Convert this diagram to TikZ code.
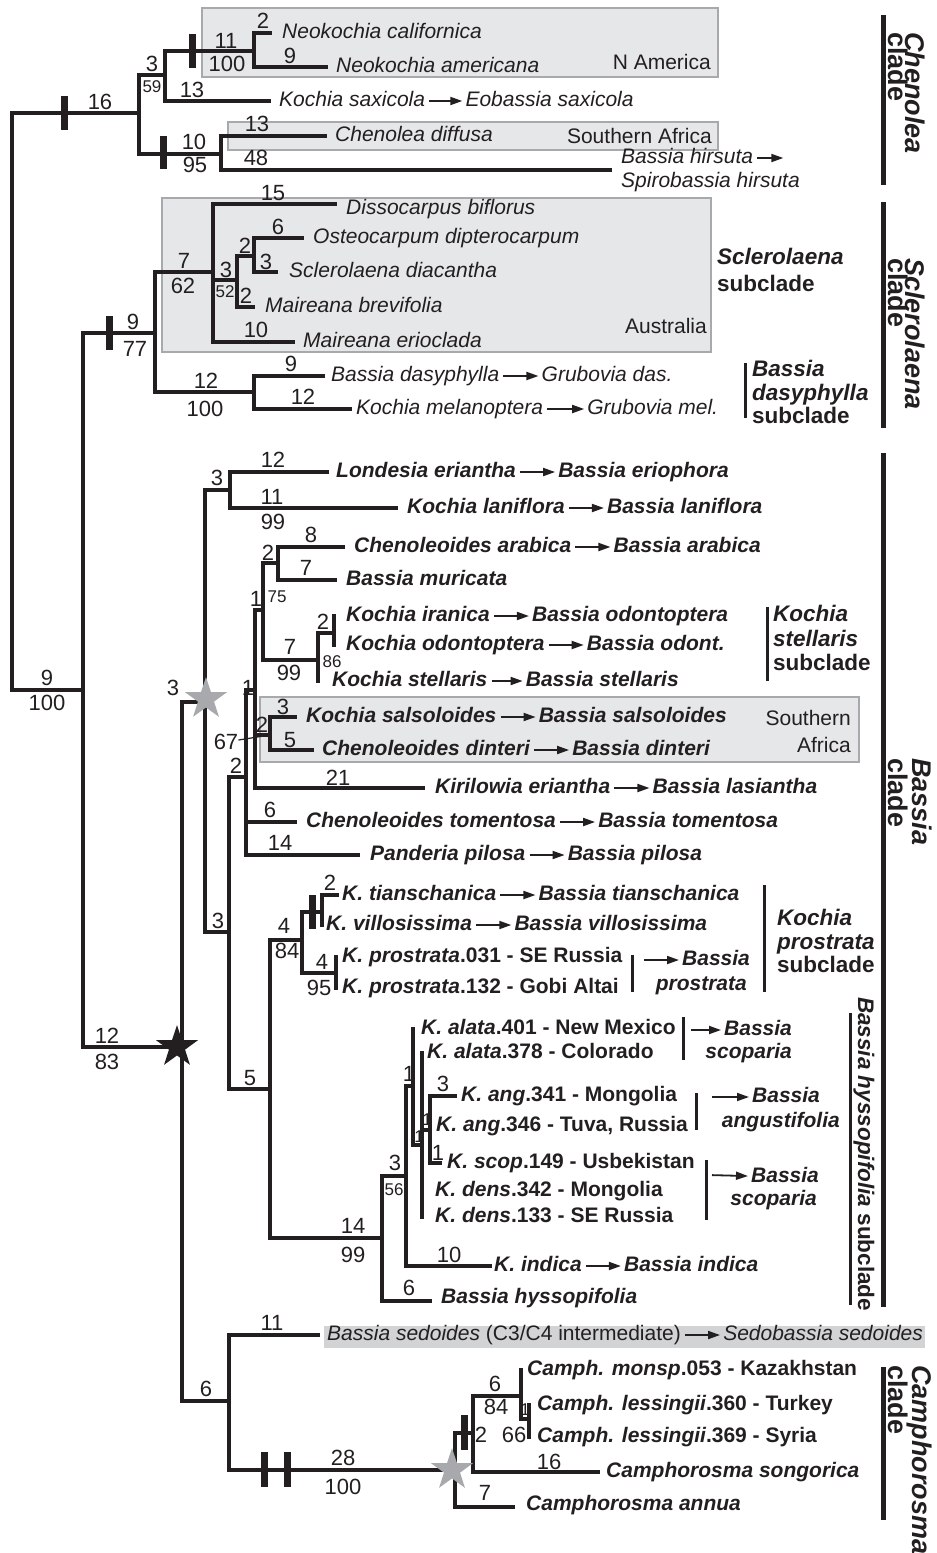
\documentclass[tikz,border=0pt]{standalone}
\usepackage{fontspec}
\setmainfont{Liberation Sans}
\usetikzlibrary{arrows.meta,positioning,shapes.geometric}

\definecolor{ink}{HTML}{231F20}
\definecolor{boxfill}{HTML}{E6E7E8}
\definecolor{boxline}{HTML}{A7A9AC}
\definecolor{sedfill}{HTML}{D1D3D4}
\definecolor{stargray}{HTML}{A7A9AC}

\newcommand\txsize{\fontsize{21}{24}\selectfont}
\newcommand\numsize{\fontsize{22}{24}\selectfont}
\newcommand\smsize{\fontsize{17}{18}\selectfont}
\newcommand\subsize{\fontsize{22.5}{24}\selectfont}
\newcommand\cladesize{\fontsize{27}{30}\selectfont}

\tikzset{
  br/.style={draw=ink, line width=3.3pt, line cap=rect},
  tick/.style={draw=ink, line width=7pt},
  cbar/.style={draw=ink, line width=5pt},
  sbar/.style={draw=ink, line width=3pt},
  tx/.style={font=\txsize\itshape, text=ink, inner sep=0pt, text height=15pt, text depth=4.5pt},
  btx/.style={tx, font=\txsize\bfseries\itshape},
  spx/.style={tx, font=\txsize\bfseries},
  glab/.style={font=\txsize, text=ink, inner sep=0pt},
  num/.style={font=\numsize, text=ink, inner sep=0pt},
  snum/.style={font=\smsize, text=ink, inner sep=0pt},
  ar/.style={draw=ink, line width=1.8pt, -{Triangle[length=12pt,width=8pt]}, shorten <=4pt, shorten >=3pt},
  geo/.style={draw=boxline, fill=boxfill, line width=2pt},
  sub/.style={font=\subsize\bfseries, text=ink, inner sep=0pt, anchor=base west},
  clade/.style={font=\cladesize\bfseries, text=ink, inner sep=0pt, rotate=-90, anchor=base west},
  star5/.style={star, star points=5, star point ratio=2.6, inner sep=0pt, minimum size=44pt}
}

\begin{document}
\begin{tikzpicture}[x=1pt, y=-1pt]
\useasboundingbox (0,0) rectangle (937,1553);

% geographic boxes
\draw[geo] (202,8) rectangle (718,77);
\draw[geo] (228,122) rectangle (718,150);
\draw[geo] (162,198) rectangle (711,352);
\draw[geo] (260,697) rectangle (859,762);
\fill[sedfill] (324,1326) rectangle (925,1348);

% internal nodes
\coordinate (root) at (12,400);
\coordinate (che) at (139,113);
\coordinate (neog) at (165,75);
\coordinate (neo) at (254,51);
\coordinate (chd) at (221,154);
\coordinate (rest) at (83,690);
\coordinate (scl) at (155,333);
\coordinate (scla) at (213,272);
\coordinate (sclb) at (237,280);
\coordinate (sclc) at (254,256);
\coordinate (das) at (254,392);
\coordinate (bas) at (182,1047);
\coordinate (bgs) at (205,702);
\coordinate (lon) at (230,490);
\coordinate (bb3) at (229,932);
\coordinate (bb2) at (246,777);
\coordinate (bb1) at (255,690);
\coordinate (b175) at (263,610);
\coordinate (arab) at (278,563);
\coordinate (stel) at (318,660);
\coordinate (iran) at (334,633);
\coordinate (sal) at (270,735);
\coordinate (bb5) at (270,1089);
\coordinate (pro) at (302,940);
\coordinate (tia) at (322,912);
\coordinate (kpr) at (336,973);
\coordinate (hys) at (382,1238);
\coordinate (hy3) at (406,1176);
\coordinate (hy1) at (413,1086);
\coordinate (hy1b) at (422,1145);
\coordinate (ang) at (430,1130);
\coordinate (six) at (229,1401);
\coordinate (cam) at (455,1470);
\coordinate (cam2) at (473,1433);
\coordinate (cam3) at (521,1396);
\coordinate (les) at (529,1419);

% tips
\coordinate (tnc) at (270,33);
\coordinate (tna) at (326,67);
\coordinate (tks) at (269,101);
\coordinate (tcd) at (325,136);
\coordinate (tbh) at (610,170);
\coordinate (tdb) at (335,204);
\coordinate (tod) at (302,238);
\coordinate (tsd) at (276,272);
\coordinate (tmb) at (253,307);
\coordinate (tme) at (293,342);
\coordinate (tbd) at (323,376);
\coordinate (tkm) at (350,409);
\coordinate (tle) at (327,472);
\coordinate (tkl) at (396,508);
\coordinate (tca) at (343,547);
\coordinate (tbm) at (335,580);
\coordinate (tki) at (334,616);
\coordinate (tko) at (334,645);
\coordinate (tkst) at (318,681);
\coordinate (tkss) at (295,717);
\coordinate (tcdi) at (312,750);
\coordinate (tke) at (423,788);
\coordinate (tct) at (295,822);
\coordinate (tpp) at (358,855);
\coordinate (tkt) at (337,895);
\coordinate (tkv) at (322,925);
\coordinate (tkp1) at (336,957);
\coordinate (tkp2) at (336,988);
\coordinate (tka1) at (413,1029);
\coordinate (tka2) at (422,1053);
\coordinate (tkg1) at (455,1096);
\coordinate (tkg2) at (430,1126);
\coordinate (tksc) at (440,1163);
\coordinate (tkd1) at (422,1191);
\coordinate (tkd2) at (422,1217);
\coordinate (tki2) at (490,1266);
\coordinate (tbhy) at (430,1301);
\coordinate (tbse) at (318,1335);
\coordinate (tcm) at (521,1370);
\coordinate (tcl1) at (529,1405);
\coordinate (tcl2) at (529,1437);
\coordinate (tcs) at (598,1472);
\coordinate (tca2) at (513,1507);

% branches
\draw[br] (root) |- (che) (root) |- (rest);
\draw[br] (che) |- (neog) (che) |- (chd);
\draw[br] (neog) |- (neo) (neog) |- (tks);
\draw[br] (neo) |- (tnc) (neo) |- (tna);
\draw[br] (chd) |- (tcd) (chd) |- (tbh);
\draw[br] (rest) |- (scl) (rest) |- (bas);
\draw[br] (scl) |- (scla) (scl) |- (das);
\draw[br] (scla) |- (tdb) (scla) |- (sclb) (scla) |- (tme);
\draw[br] (sclb) |- (sclc) (sclb) |- (tmb);
\draw[br] (sclc) |- (tod) (sclc) |- (tsd);
\draw[br] (das) |- (tbd) (das) |- (tkm);
\draw[br] (bas) |- (bgs) (bas) |- (six);
\draw[br] (bgs) |- (lon) (bgs) |- (bb3);
\draw[br] (lon) |- (tle) (lon) |- (tkl);
\draw[br] (bb3) |- (bb2) (bb3) |- (bb5);
\draw[br] (bb2) |- (bb1) (bb2) |- (tct) (bb2) |- (tpp);
\draw[br] (bb1) |- (b175) (bb1) |- (sal) (bb1) |- (tke);
\draw[br] (b175) |- (arab) (b175) |- (stel);
\draw[br] (arab) |- (tca) (arab) |- (tbm);
\draw[br] (stel) |- (iran) (stel) |- (tkst);
\draw[br] (iran) |- (tki) (iran) |- (tko);
\draw[br] (sal) |- (tkss) (sal) |- (tcdi);
\draw[br] (bb5) |- (pro) (bb5) |- (hys);
\draw[br] (pro) |- (tia) (pro) |- (kpr);
\draw[br] (tia) |- (tkt) (tia) |- (tkv);
\draw[br] (kpr) |- (tkp1) (kpr) |- (tkp2);
\draw[br] (hys) |- (hy3) (hys) |- (tbhy);
\draw[br] (hy3) |- (hy1) (hy3) |- (tki2);
\draw[br] (hy1) |- (tka1) (hy1) |- (hy1b);
\draw[br] (hy1b) |- (tka2) (hy1b) |- (ang) (hy1b) |- (tkd2);
\draw[br] (ang) |- (tkg1) (ang) |- (tksc);
\draw[br] (six) |- (tbse) (six) |- (cam);
\draw[br] (cam) |- (cam2) (cam) |- (tca2);
\draw[br] (cam2) |- (cam3) (cam2) |- (tcs);
\draw[br] (cam3) |- (tcm) (cam3) |- (les);
\draw[br] (les) |- (tcl1) (les) |- (tcl2);

% ticks
\draw[tick] (64,96) -- (64,130);
\draw[tick] (192,34) -- (192,68);
\draw[tick] (163,136) -- (163,169);
\draw[tick] (109,316) -- (109,350);
\draw[tick] (312,895) -- (312,929);
\draw[tick] (264,1452) -- (264,1487);
\draw[tick] (287,1452) -- (287,1487);
\draw[tick] (464,1415) -- (464,1450);

% stars
\node[star5, fill=stargray] (gs1) at (206,699) {};
\node[star5, fill=ink] (bs) at (177,1047) {};
\node[star5, fill=stargray] (gs2) at (452,1470) {};

% branch labels
\node[num] (l1) at (100,102) {16};
\node[num] (l2) at (152,64) {3};
\node[snum] (l3) at (152,87) {59};
\node[num] (l4) at (226,41) {11};
\node[num] (l5) at (227,64) {100};
\node[num] (l6) at (263,21) {2};
\node[num] (l7) at (290,56) {9};
\node[num] (l8) at (192,90) {13};
\node[num] (l9) at (194,142) {10};
\node[num] (l10) at (195,165) {95};
\node[num] (l11) at (257,124) {13};
\node[num] (l12) at (256,158) {48};
\node[num] (l13) at (47,678) {9};
\node[num] (l14) at (47,703) {100};
\node[num] (l15) at (133,322) {9};
\node[num] (l16) at (135,349) {77};
\node[num] (l17) at (184,261) {7};
\node[num] (l18) at (183,286) {62};
\node[num] (l19) at (273,193) {15};
\node[num] (l20) at (226,270) {3};
\node[snum] (l21) at (225,292) {52};
\node[num] (l22) at (245,246) {2};
\node[num] (l23) at (278,227) {6};
\node[num] (l24) at (266,262) {3};
\node[num] (l25) at (246,296) {2};
\node[num] (l26) at (256,330) {10};
\node[num] (l27) at (206,381) {12};
\node[num] (l28) at (205,409) {100};
\node[num] (l29) at (291,364) {9};
\node[num] (l30) at (303,397) {12};
\node[num] (l31) at (107,1036) {12};
\node[num] (l32) at (107,1062) {83};
\node[num] (l33) at (173,688) {3};
\node[num] (l34) at (217,478) {3};
\node[num] (l35) at (273,460) {12};
\node[num] (l36) at (272,497) {11};
\node[num] (l37) at (273,522) {99};
\node[num] (l38) at (311,535) {8};
\node[num] (l39) at (268,553) {2};
\node[num] (l40) at (306,568) {7};
\node[num] (l41) at (256,599) {1};
\node[snum] (l42) at (277,597) {75};
\node[num] (l43) at (323,622) {2};
\node[num] (l44) at (290,647) {7};
\node[num] (l45) at (289,673) {99};
\node[snum] (l46) at (332,662) {86};
\node[num] (l47) at (248,688) {1};
\node[num] (l48) at (283,707) {3};
\node[num] (l49) at (262,725) {2};
\node[num] (l50) at (290,740) {5};
\node[num] (l51) at (226,742) {67};
\draw[ink, line width=1.2pt, shorten >=7pt] (l51) -- (sal);
\node[num] (l52) at (236,766) {2};
\node[num] (l53) at (338,778) {21};
\node[num] (l54) at (270,810) {6};
\node[num] (l55) at (280,843) {14};
\node[num] (l56) at (218,921) {3};
\node[num] (l57) at (330,883) {2};
\node[num] (l58) at (284,926) {4};
\node[num] (l59) at (287,951) {84};
\node[num] (l60) at (322,962) {4};
\node[num] (l61) at (319,988) {95};
\node[num] (l62) at (250,1078) {5};
\node[num] (l63) at (409,1074) {1};
\node[num] (l64) at (443,1084) {3};
\node[snum] (l65) at (427,1120) {1};
\node[snum] (l66) at (419,1137) {1};
\node[num] (l67) at (438,1153) {1};
\node[num] (l68) at (395,1163) {3};
\node[snum] (l69) at (394,1190) {56};
\node[num] (l70) at (353,1226) {14};
\node[num] (l71) at (353,1255) {99};
\node[num] (l72) at (449,1255) {10};
\node[num] (l73) at (409,1288) {6};
\node[num] (l74) at (272,1323) {11};
\node[num] (l75) at (206,1389) {6};
\node[num] (l76) at (343,1458) {28};
\node[num] (l77) at (343,1487) {100};
\node[num] (l78) at (495,1384) {6};
\node[num] (l79) at (496,1407) {84};
\node[num] (l80) at (481,1435) {2};
\node[num] (l81) at (514,1435) {66};
\node[snum] (l82) at (525,1410) {1};
\node[num] (l83) at (549,1462) {16};
\node[num] (l84) at (485,1493) {7};

% Chenolea clade taxa
\node[tx, right=12pt of tnc] (nc) {Neokochia californica};
\node[tx, right=10pt of tna] (na) {Neokochia americana};
\node[tx, right=10pt of tks] (ks) {Kochia saxicola};
\node[tx, right=40pt of ks] (eb) {Eobassia saxicola};
\draw[ar] (ks) -- (eb);
\node[tx, right=10pt of tcd] (cd) {Chenolea diffusa};
\node[tx, right=11pt of tbh, yshift=12pt] (bh) {Bassia hirsuta};
\coordinate[right=33pt of bh] (bha);
\draw[ar] (bh) -- (bha);
\node[tx, below=4.5pt of bh.south west, anchor=north west] (sh) {Spirobassia hirsuta};
\node[glab, anchor=east] (nam) at (711,62) {N America};
\node[glab, anchor=east] (saf) at (712,136) {Southern Africa};

% Sclerolaena clade taxa
\node[tx, right=11pt of tdb, yshift=-5pt] (db) {Dissocarpus biflorus};
\node[tx, right=11pt of tod] (od) {Osteocarpum dipterocarpum};
\node[tx, right=13pt of tsd] (sd) {Sclerolaena diacantha};
\node[tx, right=12pt of tmb] (mb) {Maireana brevifolia};
\node[tx, right=10pt of tme] (me) {Maireana erioclada};
\node[tx, right=8pt of tbd] (bd) {Bassia dasyphylla};
\node[tx, right=42pt of bd] (gd) {Grubovia das.};
\draw[ar] (bd) -- (gd);
\node[tx, right=6pt of tkm] (km) {Kochia melanoptera};
\node[tx, right=44pt of km] (gm) {Grubovia mel.};
\draw[ar] (km) -- (gm);
\node[glab, anchor=east] (aus) at (707,326) {Australia};

% Bassia clade taxa
\node[btx, right=9pt of tle] (le) {Londesia eriantha};
\node[btx, right=42pt of le] (le2) {Bassia eriophora};
\draw[ar] (le) -- (le2);
\node[btx, right=11pt of tkl] (kl) {Kochia laniflora};
\node[btx, right=42pt of kl] (kl2) {Bassia laniflora};
\draw[ar] (kl) -- (kl2);
\node[btx, right=11pt of tca] (ca) {Chenoleoides arabica};
\node[btx, right=42pt of ca] (ca2) {Bassia arabica};
\draw[ar] (ca) -- (ca2);
\node[btx, right=11pt of tbm] (bm) {Bassia muricata};
\node[btx, right=12pt of tki] (ki) {Kochia iranica};
\node[btx, right=42pt of ki] (ki3) {Bassia odontoptera};
\draw[ar] (ki) -- (ki3);
\node[btx, right=12pt of tko] (ko) {Kochia odontoptera};
\node[btx, right=42pt of ko] (ko2) {Bassia odont.};
\draw[ar] (ko) -- (ko2);
\node[btx, right=14pt of tkst] (kst) {Kochia stellaris};
\node[btx, right=38pt of kst] (kst2) {Bassia stellaris};
\draw[ar] (kst) -- (kst2);
\node[btx, right=11pt of tkss] (kss) {Kochia salsoloides};
\node[btx, right=42pt of kss] (kss2) {Bassia salsoloides};
\draw[ar] (kss) -- (kss2);
\node[btx, right=10pt of tcdi] (cdi) {Chenoleoides dinteri};
\node[btx, right=42pt of cdi] (cdi2) {Bassia dinteri};
\draw[ar] (cdi) -- (cdi2);
\node[glab, anchor=east] (saf3) at (851,718) {Southern};
\node[glab, anchor=east] (saf4) at (851,745) {Africa};
\node[btx, right=12pt of tke] (ke) {Kirilowia eriantha};
\node[btx, right=42pt of ke] (ke2) {Bassia lasiantha};
\draw[ar] (ke) -- (ke2);
\node[btx, right=11pt of tct] (ct) {Chenoleoides tomentosa};
\node[btx, right=42pt of ct] (ct2) {Bassia tomentosa};
\draw[ar] (ct) -- (ct2);
\node[btx, right=12pt of tpp] (pp) {Panderia pilosa};
\node[btx, right=42pt of pp] (pp2) {Bassia pilosa};
\draw[ar] (pp) -- (pp2);
\node[btx, right=5pt of tkt] (kt) {K. tianschanica};
\node[btx, right=42pt of kt] (kt2) {Bassia tianschanica};
\draw[ar] (kt) -- (kt2);
\node[btx, right=4pt of tkv] (kv) {K. villosissima};
\node[btx, right=42pt of kv] (kv2) {Bassia villosissima};
\draw[ar] (kv) -- (kv2);
\node[spx, right=6pt of tkp1] (kp1) {\textit{K. prostrata}.031 - SE Russia};
\node[spx, right=6pt of tkp2] (kp2) {\textit{K. prostrata}.132 - Gobi Altai};
\draw[sbar] (632,955) -- (632,992);
\coordinate (pa) at (640,960);
\node[btx, anchor=west] (pb1) at (682,960) {Bassia};
\node[btx, anchor=east] (pb2) at (747,985) {prostrata};
\draw[ar] (pa) -- (pb1);

\node[spx, right=8pt of tka1] (ka1) {\textit{K. alata}.401 - New Mexico};
\node[spx, right=5pt of tka2] (ka2) {\textit{K. alata}.378 - Colorado};
\draw[sbar] (683,1017) -- (683,1060);
\coordinate (sa) at (687,1030);
\node[btx, anchor=west] (sb1) at (724,1030) {Bassia};
\node[btx, anchor=east] (sb2) at (792,1053) {scoparia};
\draw[ar] (sa) -- (sb1);
\node[spx, right=6pt of tkg1] (kg1) {\textit{K. ang}.341 - Mongolia};
\node[spx, right=6pt of tkg2] (kg2) {\textit{K. ang}.346 - Tuva, Russia};
\draw[sbar] (696,1093) -- (696,1130);
\coordinate (aa) at (708,1097);
\node[btx, anchor=west] (ab1) at (752,1097) {Bassia};
\node[btx, anchor=east] (ab2) at (840,1122) {angustifolia};
\draw[ar] (aa) -- (ab1);
\node[spx, right=7pt of tksc] (ksc) {\textit{K. scop}.149 - Usbekistan};
\node[spx, right=13pt of tkd1] (kd1) {\textit{K. dens}.342 - Mongolia};
\node[spx, right=13pt of tkd2] (kd2) {\textit{K. dens}.133 - SE Russia};
\draw[sbar] (706,1160) -- (706,1220);
\coordinate (cca) at (708,1175);
\node[btx, anchor=west] (cb1) at (751,1177) {Bassia};
\node[btx, anchor=east] (cb2) at (817,1200) {scoparia};
\draw[ar] (cca) -- (cb1);
\node[btx, right=4pt of tki2] (kin) {K. indica};
\node[btx, right=42pt of kin] (kin2) {Bassia indica};
\draw[ar] (kin) -- (kin2);
\node[btx, right=11pt of tbhy, yshift=3pt] (bhy) {Bassia hyssopifolia};

% Camphorosma clade taxa
\node[tx, right=9pt of tbse] (bse) {Bassia sedoides \textup{(C3/C4 intermediate)}};
\node[tx, right=42pt of bse] (sbs) {Sedobassia sedoides};
\draw[ar] (bse) -- (sbs);
\node[spx, right=6pt of tcm] (cm) {\textit{Camph. monsp}.053 - Kazakhstan};
\node[spx, right=8pt of tcl1] (cl1) {\textit{Camph. lessingii}.360 - Turkey};
\node[spx, right=8pt of tcl2] (cl2) {\textit{Camph. lessingii}.369 - Syria};
\node[btx, right=8pt of tcs] (cs) {Camphorosma songorica};
\node[btx, right=13pt of tca2, yshift=2pt] (can) {Camphorosma annua};

% subclade labels
\node[sub] (sc1) at (717,264) {\textit{Sclerolaena}};
\node[sub] (sc2) at (717,291) {subclade};
\draw[sbar] (745,363) -- (745,418);
\node[sub] (dy1) at (752,376) {\textit{Bassia}};
\node[sub] (dy2) at (752,400) {\textit{dasyphylla}};
\node[sub] (dy3) at (752,423) {subclade};
\draw[sbar] (767,607) -- (767,681);
\node[sub] (st1) at (773,621) {\textit{Kochia}};
\node[sub] (st2) at (773,646) {\textit{stellaris}};
\node[sub] (st3) at (773,670) {subclade};
\draw[sbar] (764,885) -- (764,992);
\node[sub] (pr1) at (777,925) {\textit{Kochia}};
\node[sub] (pr2) at (777,949) {\textit{prostrata}};
\node[sub] (pr3) at (777,972) {subclade};
\draw[sbar] (850,1013) -- (850,1305);
\node[sub, rotate=-90] (hyl) at (858,997) {\textit{Bassia hyssopifolia} subclade};

% clade labels
\draw[cbar] (883,15) -- (883,185);
\node[clade] (cl1a) at (905,32) {\textit{Chenolea}};
\node[clade] (cl1b) at (888,32) {clade};
\draw[cbar] (883,202) -- (883,428);
\node[clade] (cl2a) at (905,258) {\textit{Sclerolaena}};
\node[clade] (cl2b) at (888,258) {clade};
\draw[cbar] (883,453) -- (883,1307);
\node[clade] (cl3a) at (912,758) {\textit{Bassia}};
\node[clade] (cl3b) at (888,758) {clade};
\draw[cbar] (883,1367) -- (883,1520);
\node[clade] (cl4a) at (912,1365) {\textit{Camphorosma}};
\node[clade] (cl4b) at (888,1365) {clade};
\end{tikzpicture}
\end{document}
